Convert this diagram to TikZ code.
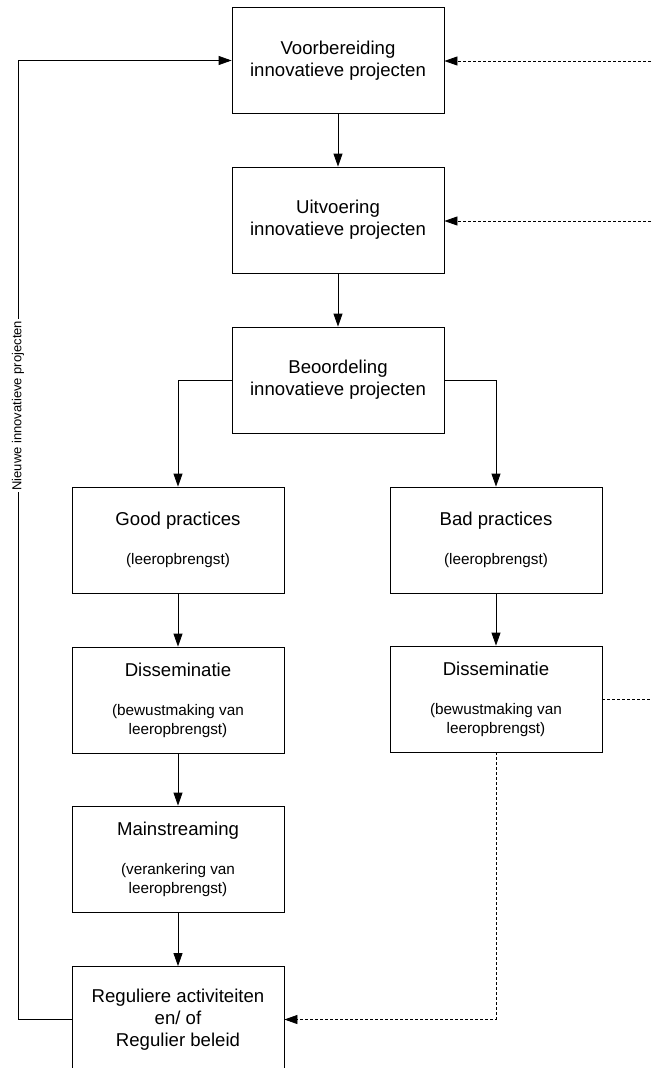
\documentclass[tikz,border=0pt]{standalone}
\usepackage{fontspec}
\setmainfont{Liberation Sans}
\usetikzlibrary{arrows.meta}
\newcommand\boxtitle[1]{{\fontsize{18.6}{22}\selectfont #1}}
\begin{document}
\begin{tikzpicture}[x=1pt,y=-1pt,
  box/.style={draw, line width=0.8pt, minimum width=212pt, minimum height=106pt, align=center, inner sep=0pt, font=\fontsize{18.6}{22}\selectfont},
  subbox/.style={box, font=\fontsize{15.3}{19}\selectfont},
  arr/.style={line width=0.8pt, -{Triangle[length=13pt,width=9pt]}},
  dsh/.style={line width=0.8pt, dash pattern=on 3pt off 2pt},
  lbl/.style={fill=white, rotate=90, inner sep=1.5pt, font=\fontsize{13}{16}\selectfont}
]
\useasboundingbox (0,0) rectangle (651,1068);

\node[box] (v1) at (338,60.5) {Voorbereiding\\innovatieve projecten};
\node[box] (v2) at (338,220) {Uitvoering\\innovatieve projecten};
\node[box] (v3) at (338,380) {Beoordeling\\innovatieve projecten};
\node[subbox] (gp) at (178,540) {\boxtitle{Good practices}\\[20pt](leeropbrengst)};
\node[subbox] (bp) at (496,540) {\boxtitle{Bad practices}\\[20pt](leeropbrengst)};
\node[subbox] (d1) at (178,700) {\boxtitle{Disseminatie}\\[20pt](bewustmaking van\\leeropbrengst)};
\node[subbox] (d2) at (496,699) {\boxtitle{Disseminatie}\\[20pt](bewustmaking van\\leeropbrengst)};
\node[subbox] (ms) at (178,859) {\boxtitle{Mainstreaming}\\[20pt](verankering van\\leeropbrengst)};
\node[box] (rg) at (178,1019.5) {Reguliere activiteiten\\en/ of\\Regulier beleid};

\coordinate (in1) at (651,61);
\coordinate (in2) at (651,221);
\coordinate (out1) at (651,699);
\coordinate (lc) at (18,1019.5);

\draw[arr] (v1) -- (v2);
\draw[arr] (v2) -- (v3);
\draw[arr] (v3.west) -| (gp.north);
\draw[arr] (v3.east) -| (bp.north);
\draw[arr] (gp) -- (d1);
\draw[arr] (d1) -- (ms);
\draw[arr] (ms) -- (rg);
\draw[arr] (bp) -- (d2);

\draw[arr] (rg.west) -- (lc) -- node[lbl, pos=0.64] (nl) {Nieuwe innovatieve projecten} (lc |- v1.west) -- (v1.west);

\draw[dsh, -{Triangle[length=13pt,width=9pt]}] (in1) -- (in1 -| v1.east);
\draw[dsh, -{Triangle[length=13pt,width=9pt]}] (in2) -- (in2 -| v2.east);
\draw[dsh] (d2.east) -- (out1);
\draw[dsh, -{Triangle[length=13pt,width=9pt]}] (d2.south) |- (rg.east);
\end{tikzpicture}
\end{document}
